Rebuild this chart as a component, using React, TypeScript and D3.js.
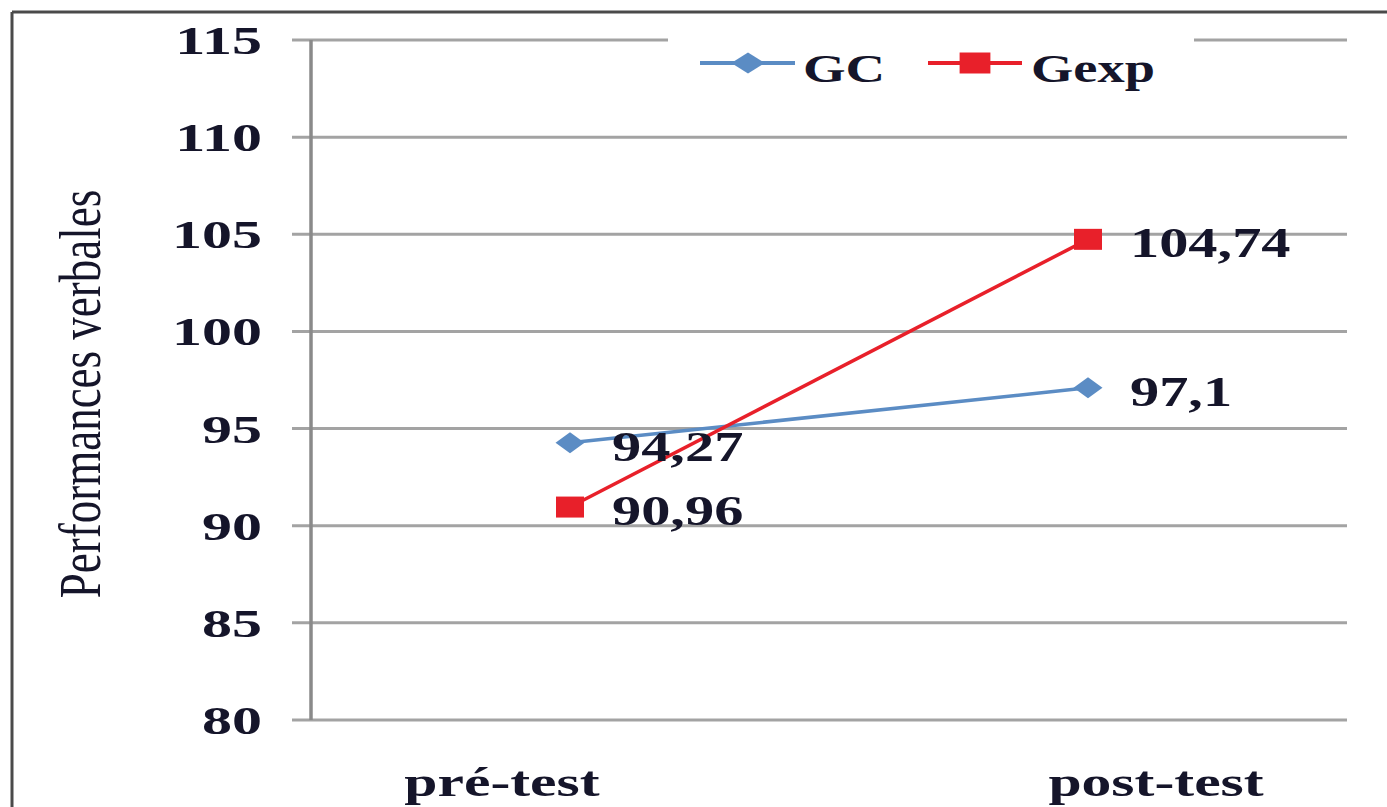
import React from "react";
import * as d3 from "d3";

const categories = ["pré-test", "post-test"];
const gcValues = [94.27, 97.1];
const gexpValues = [90.96, 104.74];
const gcLabels = ["94,27", "97,1"];
const gexpLabels = ["90,96", "104,74"];
const yTicks = [80, 85, 90, 95, 100, 105, 110, 115];
const seriesNames = ["GC", "Gexp"];

const W = 1387;
const H = 807;
const FONT = "'Liberation Serif', 'Times New Roman', serif";
const TXT = "#15152a";
const BLUE = "#5b8cc4";
const RED = "#e8202a";
const GRID = "#a3a3a3";

export default function App() {
  const left = 311;
  const right = 1347;
  const x = d3.scalePoint<string>().domain(categories).range([left, right]).padding(0.5);
  const xLab = d3.scalePoint<string>().domain(categories).range([left, right]).padding(0.292);
  const y = d3.scaleLinear().domain([80, 115]).range([720, 40]);

  const line = d3
    .line<number>()
    .x((_, i) => x(categories[i]) as number)
    .y((d) => y(d));

  const diamond = "M0,-10.5L14.5,0L0,10.5L-14.5,0Z";
  const square = "M-14,-10.5L14,-10.5L14,10.5L-14,10.5Z";

  const tickS = 1.5;
  const labS = 1.39;

  return (
    <svg
      width={W}
      height={H}
      viewBox={`0 0 ${W} ${H}`}
      style={{ position: "absolute", left: 0, top: 0, background: "#fff" }}
    >
      {/* outer frame */}
      <line x1={12} y1={12} x2={W} y2={12} stroke="#4a4a4a" strokeWidth={3} />
      <line x1={12} y1={12} x2={12} y2={H} stroke="#4a4a4a" strokeWidth={3} />

      {/* gridlines */}
      {yTicks.map((t) => (
        <line key={t} x1={292} x2={right} y1={y(t)} y2={y(t)} stroke={GRID} strokeWidth={3} />
      ))}
      {/* y axis */}
      <line x1={left} x2={left} y1={y(115)} y2={y(80)} stroke="#8a8a8a" strokeWidth={3.5} />

      {/* tick labels */}
      {yTicks.map((t) => (
        <text
          key={t}
          transform={`translate(262,${y(t) + 14}) scale(${tickS},1)`}
          textAnchor="end"
          fontFamily={FONT}
          fontWeight="bold"
          fontSize={40}
          fill={TXT}
        >
          {t}
        </text>
      ))}

      {/* y title */}
      <text
        transform={`translate(100,${(y(80) + y(115)) / 2 + 14}) scale(1.3,1) rotate(-90)`}
        textAnchor="middle"
        fontFamily={FONT}
        fontSize={45}
        fill={TXT}
      >
        Performances verbales
      </text>

      {/* category labels */}
      {categories.map((c) => (
        <text
          key={c}
          transform={`translate(${xLab(c)},796) scale(1.42,1)`}
          textAnchor="middle"
          fontFamily={FONT}
          fontWeight="bold"
          fontSize={42}
          fill={TXT}
        >
          {c}
        </text>
      ))}

      {/* legend */}
      <rect x={668} y={30} width={526} height={20} fill="#fff" />
      <line x1={700} x2={795} y1={63} y2={63} stroke={BLUE} strokeWidth={4} />
      <path d={diamond} transform="translate(748,63) scale(1.15,1)" fill={BLUE} />
      <text
        transform="translate(803,82) scale(1.37,1)"
        fontFamily={FONT}
        fontWeight="bold"
        fontSize={40}
        fill={TXT}
      >
        {seriesNames[0]}
      </text>
      <line x1={928} x2={1022} y1={63} y2={63} stroke={RED} strokeWidth={4} />
      <path d={square} transform="translate(975,63) scale(1.1,1)" fill={RED} />
      <text
        transform="translate(1031,82) scale(1.36,1)"
        fontFamily={FONT}
        fontWeight="bold"
        fontSize={40}
        fill={TXT}
      >
        {seriesNames[1]}
      </text>

      {/* series lines */}
      <path d={line(gcValues) as string} fill="none" stroke={BLUE} strokeWidth={3.5} />
      <path d={line(gexpValues) as string} fill="none" stroke={RED} strokeWidth={3.5} />

      {/* markers */}
      {gcValues.map((v, i) => (
        <path key={"gc" + i} d={diamond} transform={`translate(${x(categories[i])},${y(v)})`} fill={BLUE} />
      ))}
      {gexpValues.map((v, i) => (
        <path key={"ge" + i} d={square} transform={`translate(${x(categories[i])},${y(v)})`} fill={RED} />
      ))}

      {/* data labels */}
      {gcValues.map((v, i) => (
        <text
          key={"gl" + i}
          transform={`translate(${(x(categories[i]) as number) + 42},${y(v) + 18}) scale(${labS},1)`}
          fontFamily={FONT}
          fontWeight="bold"
          fontSize={42}
          fill={TXT}
        >
          {gcLabels[i]}
        </text>
      ))}
      {gexpValues.map((v, i) => (
        <text
          key={"el" + i}
          transform={`translate(${(x(categories[i]) as number) + 42},${y(v) + 18}) scale(${labS},1)`}
          fontFamily={FONT}
          fontWeight="bold"
          fontSize={42}
          fill={TXT}
        >
          {gexpLabels[i]}
        </text>
      ))}
    </svg>
  );
}
